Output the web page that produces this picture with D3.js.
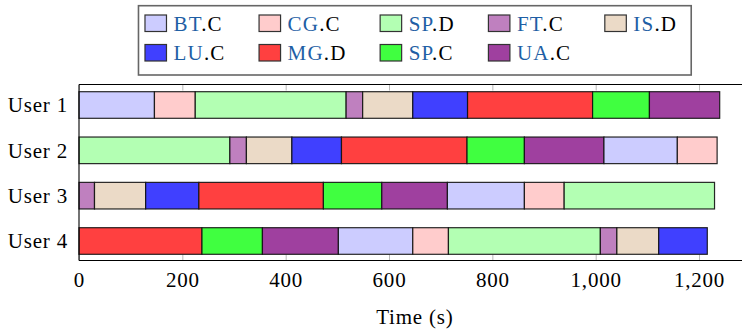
<!DOCTYPE html>
<html>
<head>
<meta charset="utf-8">
<script src="https://cdn.jsdelivr.net/npm/d3@7"></script>
<style>
  html, body { margin: 0; padding: 0; background: #fff; }
  svg { display: block; }
  text { font-family: "Liberation Serif", "Times New Roman", serif; font-size: 21px; letter-spacing: 0.8px; fill: #000; }
  .legend-entry text { letter-spacing: 1.2px; }
</style>
</head>
<body>
<svg id="chart" width="742" height="329"></svg>
<script>
// Benchmarks (legend order) and their fill colours
const benchmarks = ["BT.C", "LU.C", "CG.C", "MG.D", "SP.D", "SP.C", "FT.C", "UA.C", "IS.D"];
const benchColors = ["#ccccff", "#4040ff", "#ffcccc", "#ff4040", "#b3ffb3", "#40ff40", "#bf80bf", "#9f409f", "#ebdac7"];

const users = ["User 1", "User 2", "User 3", "User 4"];

// Execution order and duration (s) of each benchmark per user
const user1Order = ["BT.C", "CG.C", "SP.D", "FT.C", "IS.D", "LU.C", "MG.D", "SP.C", "UA.C"];
const user1Times = [146, 79, 292, 32, 97, 106, 242, 110, 136];
const user2Order = ["SP.D", "FT.C", "IS.D", "LU.C", "MG.D", "SP.C", "UA.C", "BT.C", "CG.C"];
const user2Times = [292, 32, 88, 96, 243, 111, 154, 142, 77];
const user3Order = ["FT.C", "IS.D", "LU.C", "MG.D", "SP.C", "UA.C", "BT.C", "CG.C", "SP.D"];
const user3Times = [30, 99, 103, 241, 113, 127, 149, 77, 291];
const user4Order = ["MG.D", "SP.C", "UA.C", "BT.C", "CG.C", "SP.D", "FT.C", "IS.D", "LU.C"];
const user4Times = [238, 117, 147, 144, 69, 294, 32, 81, 94];

const xTicks = [0, 200, 400, 600, 800, 1000, 1200];
const xMax = 1300;
const xTitle = "Time (s)";

// Legend columns (pairs of entries per column)
const legendColumns = [["BT.C", "LU.C"], ["CG.C", "MG.D"], ["SP.D", "SP.C"], ["FT.C", "UA.C"], ["IS.D"]];

const schedules = [
  { user: users[0], order: user1Order, times: user1Times },
  { user: users[1], order: user2Order, times: user2Times },
  { user: users[2], order: user3Order, times: user3Times },
  { user: users[3], order: user4Order, times: user4Times }
];

const svg = d3.select("#chart");
const color = d3.scaleOrdinal().domain(benchmarks).range(benchColors);

const plot = { left: 79, right: 750.7, top: 84.5, bottom: 260.5 };
const x = d3.scaleLinear().domain([0, xMax]).range([plot.left, plot.right]);
const y = d3.scalePoint().domain(users).range([105, 241]);
const barH = 26.6;

// Build stacked segments: each segment starts where the previous one ended
const segments = [];
schedules.forEach(s => {
  let t = 0;
  s.order.forEach((b, i) => {
    segments.push({ user: s.user, bench: b, start: t, end: t + s.times[i] });
    t += s.times[i];
  });
});

// Ticks (grey, pointing inward) at top and bottom
const bottomAxis = d3.axisBottom(x).tickValues(xTicks).tickSize(-6).tickPadding(11.5)
  .tickFormat(d3.format(","));
const gb = svg.append("g").attr("transform", `translate(0,${plot.bottom})`).call(bottomAxis);
gb.select(".domain").remove();
gb.selectAll(".tick line").attr("stroke", "#b8b8b8").attr("stroke-width", 1);
gb.selectAll(".tick text").attr("fill", "#000").style("font-size", "21px")
  .style("font-family", "'Liberation Serif', serif");

const topAxis = d3.axisTop(x).tickValues(xTicks).tickSize(-6).tickFormat("");
const gt = svg.append("g").attr("transform", `translate(0,${plot.top})`).call(topAxis);
gt.select(".domain").remove();
gt.selectAll(".tick line").attr("stroke", "#b8b8b8").attr("stroke-width", 1);

// User labels
const leftAxis = d3.axisLeft(y).tickSize(0).tickPadding(11);
const gl = svg.append("g").attr("transform", `translate(${plot.left},0)`).call(leftAxis);
gl.select(".domain").remove();
gl.selectAll(".tick text").attr("fill", "#000").style("font-size", "21px")
  .style("font-family", "'Liberation Serif', serif");

// Bars
svg.append("g").selectAll("rect").data(segments).join("rect")
  .attr("x", d => x(d.start))
  .attr("y", d => y(d.user) - barH / 2)
  .attr("width", d => x(d.end) - x(d.start))
  .attr("height", barH)
  .attr("fill", d => color(d.bench))
  .attr("stroke", "#111")
  .attr("stroke-opacity", 0.9)
  .attr("stroke-width", 1.2);

// Axis frame
const frame = svg.append("g").attr("stroke", "#000").attr("stroke-width", 1.1).attr("fill", "none");
frame.append("line").attr("x1", plot.left).attr("x2", plot.right).attr("y1", plot.top).attr("y2", plot.top);
frame.append("line").attr("x1", plot.left).attr("x2", plot.right).attr("y1", plot.bottom).attr("y2", plot.bottom);
frame.append("line").attr("x1", plot.left).attr("x2", plot.left).attr("y1", plot.top).attr("y2", plot.bottom);
frame.append("line").attr("x1", plot.right).attr("x2", plot.right).attr("y1", plot.top).attr("y2", plot.bottom);

// X axis title
svg.append("text")
  .attr("x", (plot.left + plot.right) / 2)
  .attr("y", 324)
  .attr("text-anchor", "middle")
  .text(xTitle);

// Legend
const legend = svg.append("g");
const box = legend.append("rect")
  .attr("fill", "#fff").attr("stroke", "#666").attr("stroke-width", 1.6);
const entries = legend.append("g");
const swW = 21.5, swH = 16.5, swGap = 28.5, colSep = 33.5, rowY = [30.7, 60.2];
let cx = 0;
legendColumns.forEach(col => {
  let maxW = 0;
  col.forEach((name, r) => {
    const parts = name.split(".");
    const g = entries.append("g").attr("class", "legend-entry");
    g.append("rect")
      .attr("x", cx).attr("y", rowY[r] - 15.7)
      .attr("width", swW).attr("height", swH)
      .attr("fill", color(name)).attr("stroke", "#333").attr("stroke-width", 1.2);
    const t = g.append("text").attr("x", cx + swGap).attr("y", rowY[r]);
    t.append("tspan").attr("fill", "#1f5fa5").text(parts[0]);
    t.append("tspan").attr("fill", "#000").text("." + parts[1]);
    maxW = Math.max(maxW, t.node().getComputedTextLength());
  });
  cx += swGap + maxW + colSep;
});
const contentW = cx - colSep;
const padL = 6.5, padR = 14;
const boxW = contentW + padL + padR;
const boxLeft = (plot.left + plot.right) / 2 - boxW / 2;
box.attr("x", boxLeft).attr("y", 5.7).attr("width", boxW).attr("height", 69.3);
entries.attr("transform", `translate(${boxLeft + padL},0)`);
</script>
</body>
</html>
